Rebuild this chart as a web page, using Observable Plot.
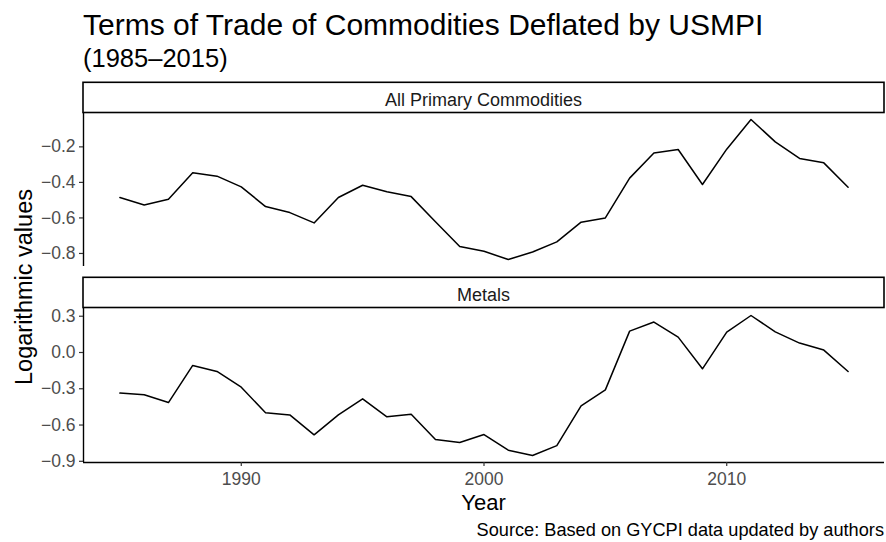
<!DOCTYPE html>
<html><head><meta charset="utf-8">
<script src="https://cdn.jsdelivr.net/npm/d3@7"></script>
<script src="https://cdn.jsdelivr.net/npm/@observablehq/plot@0.6"></script>
<style>
body{margin:0;background:#fff;font-family:"Liberation Sans",Arial,Helvetica,sans-serif;}
#chart{position:relative;width:886px;height:542px;overflow:hidden;background:#fff;}
#chart svg{position:absolute;left:0;}
#chart [aria-label$="tick label"]{fill:#4d4d4d;}
</style></head><body><div id="chart"></div>
<script>
const years = [1985,1986,1987,1988,1989,1990,1991,1992,1993,1994,1995,1996,1997,1998,1999,2000,
  2001,2002,2003,2004,2005,2006,2007,2008,2009,2010,2011,2012,2013,2014,2015];
const allPrimary = [-0.485,-0.527,-0.495,-0.346,-0.365,-0.425,-0.536,-0.570,-0.628,-0.485,-0.416,-0.453,-0.480,-0.622,-0.761,-0.788,
  -0.834,-0.792,-0.735,-0.624,-0.600,-0.376,-0.234,-0.215,-0.412,-0.213,-0.046,-0.172,-0.265,-0.290,-0.427];
const metals = [-0.336,-0.350,-0.414,-0.107,-0.157,-0.287,-0.499,-0.516,-0.681,-0.516,-0.383,-0.532,-0.510,-0.720,-0.745,-0.679,
  -0.808,-0.852,-0.770,-0.441,-0.309,0.177,0.252,0.127,-0.135,0.169,0.306,0.171,0.078,0.020,-0.157];
const panelNames = ["All Primary Commodities","Metals"];
const xTicks = [1990,2000,2010];
const yTicksAll = [-0.8,-0.6,-0.4,-0.2];
const yTicksMetals = [-0.9,-0.6,-0.3,0.0,0.3];
const titleText = "Terms of Trade of Commodities Deflated by USMPI";
const subtitleText = "(1985\u20132015)";
const xLabel = "Year";
const yLabel = "Logarithmic values";
const captionText = "Source: Based on GYCPI data updated by authors";

const FONT = '"Liberation Sans",Arial,Helvetica,sans-serif';
const chart = document.getElementById("chart");
const L = 83, R = 884, PH = 154;
const fmt = d3.format(".1f");
const xr = years[years.length-1]-years[0];
const xDomain = [years[0]-0.05*xr, years[years.length-1]+0.05*xr];

function panel(values, ticks, showX, top) {
  const data = years.map((y,i)=>({year:y, value:values[i]}));
  const [lo,hi] = d3.extent(values);
  const p = (hi-lo)*0.05;
  const yDomain = [lo-p, hi+p];
  const mb = showX ? 40 : 0;
  const marks = [
    Plot.ruleX([xDomain[0]], {stroke:"#000", strokeWidth:1.4}),
    Plot.axisY({ticks, tickSize:4, tickPadding:4, tickFormat:fmt, label:null, stroke:"#333", strokeWidth:1.2}),
    Plot.line(data, {x:"year", y:"value", stroke:"#000", strokeWidth:1.5})
  ];
  if (showX) {
    marks.push(Plot.ruleY([yDomain[0]], {stroke:"#000", strokeWidth:1.4}));
    marks.push(Plot.axisX({ticks:xTicks, tickSize:4, tickPadding:6, tickFormat:d=>String(d), label:null, stroke:"#333", strokeWidth:1.2}));
  }
  const svg = Plot.plot({
    width:886, height:PH+mb,
    marginLeft:L, marginRight:886-R, marginTop:0, marginBottom:mb,
    style:{fontFamily:FONT, fontSize:"17.5px", color:"#333", background:"transparent", overflow:"visible"},
    x:{domain:xDomain, axis: showX ? undefined : null},
    y:{domain:yDomain},
    marks
  });
  svg.style.top = top + "px";
  chart.appendChild(svg);
}

// overlay for titles, strips, axis titles
const ov = d3.select(chart).append("svg")
  .attr("width",886).attr("height",542).style("top","0px")
  .style("font-family",FONT);

ov.append("text").attr("x",L).attr("y",35).attr("font-size",30).attr("fill","#000").text(titleText);
ov.append("text").attr("x",L).attr("y",66.5).attr("font-size",25.5).attr("fill","#000").text(subtitleText);

const strips = [{name:panelNames[0], top:82.3}, {name:panelNames[1], top:277.3}];
strips.forEach(s=>{
  ov.append("rect").attr("x",L).attr("y",s.top).attr("width",R-L).attr("height",30.2)
    .attr("fill","#fff").attr("stroke","#000").attr("stroke-width",1.6);
  ov.append("text").attr("x",(L+R)/2).attr("y",s.top+23.3).attr("text-anchor","middle")
    .attr("font-size",18).attr("fill","#1a1a1a").text(s.name);
});

ov.append("text").attr("transform","translate(31.5,287) rotate(-90)").attr("text-anchor","middle")
  .attr("font-size",23.5).attr("fill","#000").text(yLabel);
ov.append("text").attr("x",(L+R)/2).attr("y",510).attr("text-anchor","middle")
  .attr("font-size",22).attr("fill","#000").text(xLabel);
ov.append("text").attr("x",R).attr("y",536).attr("text-anchor","end")
  .attr("font-size",18.2).attr("fill","#000").text(captionText);

panel(allPrimary, yTicksAll, false, 112.3);
panel(metals, yTicksMetals, true, 307.7);
</script></body></html>
